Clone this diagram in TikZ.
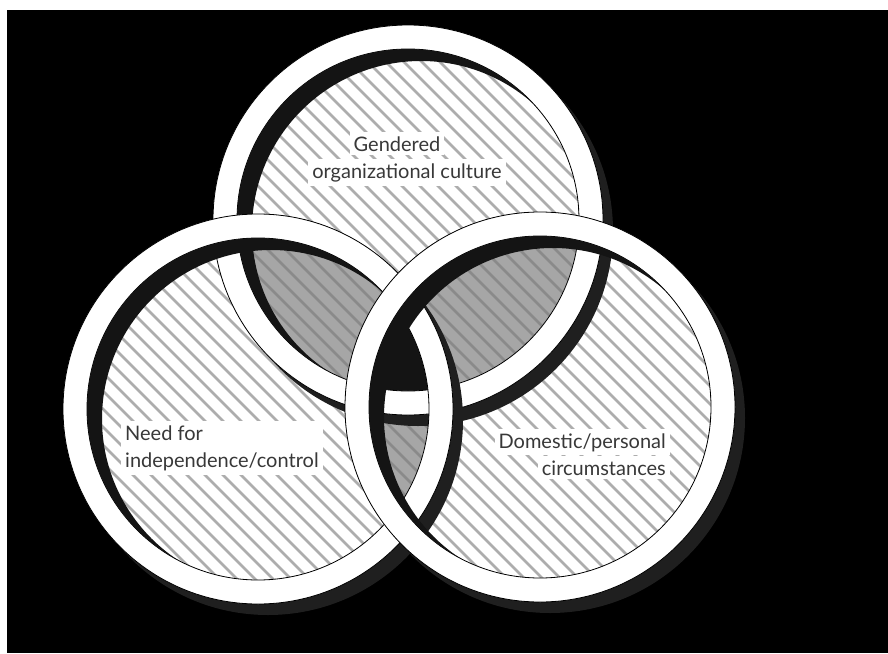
\documentclass[tikz,border=0pt]{standalone}
\usepackage{fontspec}
\usepackage{xcolor}
\usepackage{tikz}
\usetikzlibrary{calc}

\newfontfamily\labelfont{Lato}
\definecolor{hatchlight}{HTML}{ADADAD}
\definecolor{overlapgray}{HTML}{A6A6A6}
\definecolor{hatchdark}{HTML}{8A8A8A}

% diagonal hatch lines, clipped by the surrounding scope
\newcommand{\hatchlines}[1]{%
  \foreach \k in {-38,...,50} \draw[#1, line width=2.8] (\k*18,0) -- ++(700,700);}

\begin{document}
\begin{tikzpicture}[x=1pt, y=-1pt,
    ringshadow/.style={fill=black!88, even odd rule},
    ringband/.style={fill=white, draw=black, line width=0.8, even odd rule},
    innershade/.style={fill=black!92, even odd rule},
    lbl/.style={fill=white, text=black!78, inner sep=4pt, font=\labelfont\fontsize{20}{27}\selectfont}]
    \useasboundingbox (0,0) rectangle (888,653);
    \fill[black] (7,10) rectangle (888,653);

    % Circle centres and radii
    \coordinate (gender) at (408,220);
    \coordinate (need) at (258,409);
    \coordinate (domestic) at (540,407);
    \def\R{195}
    \def\r{171}

    % Hatched insides
    \foreach \c in {gender,need,domestic}{
        \begin{scope}
            \clip (\c) circle (\r);
            \fill[white] (\c) circle (\r);
            \hatchlines{hatchlight}
        \end{scope}
    }

    % Pairwise overlaps
    \foreach \a/\b in {gender/need,gender/domestic,need/domestic}{
        \begin{scope}
            \clip (\a) circle (\r);
            \clip (\b) circle (\r);
            \fill[overlapgray] (\a) circle (\r);
            \hatchlines{hatchdark}
        \end{scope}
    }

    % All three
    \begin{scope}
        \clip (gender) circle (\r);
        \clip (need) circle (\r);
        \fill[black!92] (domestic) circle (\r);
    \end{scope}

    % Rings, bottom one first
    \foreach \c in {gender,need,domestic}{
        \fill[ringshadow] ($(\c)+(10,11)$) circle (\R) (\c) circle (\R);
        \filldraw[ringband] (\c) circle (\R) (\c) circle (\r);
        \begin{scope}
            \clip (\c) circle (\r);
            \fill[innershade] (\c) circle (\R) ($(\c)+(13,10)$) circle (\r-2);
        \end{scope}
    }

    % Labels
    \node[lbl, anchor=base] (gendered) at (397,151) {Gendered};
    \node[lbl, anchor=base] (culture) at (407,178) {organizational culture};
    \node[lbl, anchor=west, align=left] (independence) at (121,448) {Need for\\independence/control};
    \node[lbl, anchor=base east] (personal) at (670,448) {Domestic/personal};
    \node[lbl, anchor=base east] (circumstances) at (670,475) {circumstances};
\end{tikzpicture}
\end{document}
